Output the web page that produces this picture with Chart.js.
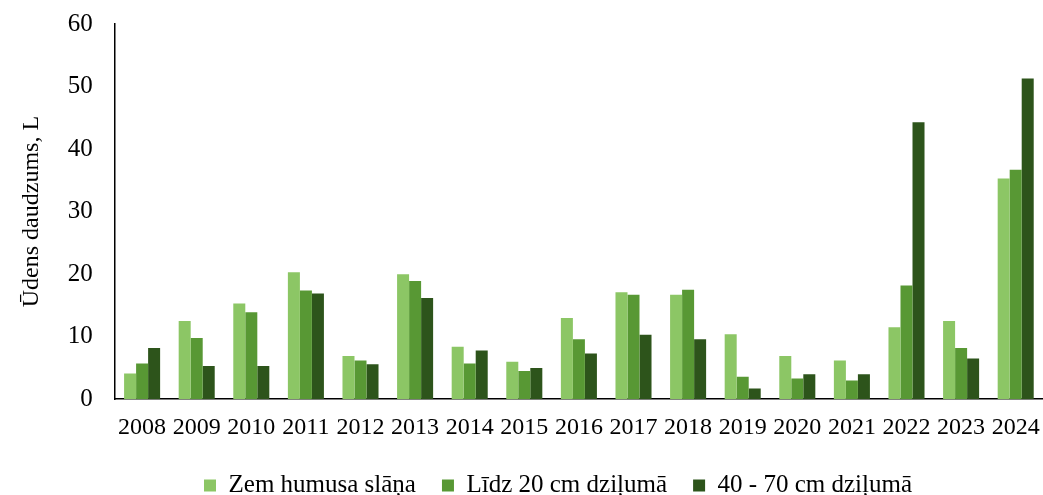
<!DOCTYPE html>
<html>
<head>
<meta charset="utf-8">
<script src="https://cdn.jsdelivr.net/npm/chart.js@4"></script>
<style>
  html, body { margin: 0; padding: 0; background: #fff; }
  #wrap { width: 1043px; height: 495px; }
</style>
</head>
<body>
<div id="wrap"><canvas id="waterChart"></canvas></div>
<script>
// Data
const years = ["2008","2009","2010","2011","2012","2013","2014","2015","2016","2017","2018","2019","2020","2021","2022","2023","2024"];
const underHumus = [4.1, 12.5, 15.3, 20.3, 6.9, 20.0, 8.4, 6.0, 13.0, 17.1, 16.7, 10.4, 6.9, 6.2, 11.5, 12.5, 35.3];
const upTo20cm   = [5.7, 9.8, 13.9, 17.4, 6.2, 18.9, 5.7, 4.5, 9.6, 16.7, 17.5, 3.6, 3.3, 3.0, 18.2, 8.2, 36.7];
const depth40_70 = [8.2, 5.3, 5.3, 16.9, 5.6, 16.2, 7.8, 5.0, 7.3, 10.3, 9.6, 1.7, 4.0, 4.0, 44.3, 6.5, 51.3];
const yTicks = [0, 10, 20, 30, 40, 50, 60];

const serif = "'Liberation Serif', 'Times New Roman', serif";

// tick padding would otherwise be added to the plot's top/right margins
const noEdgePadding = (scale) => {
  scale.paddingTop = 0;
  scale.paddingBottom = 0;
  scale.paddingLeft = 0;
  scale.paddingRight = 0;
};

// move the legend a bit (the original sits right of centre)
const legendNudge = {
  id: "legendNudge",
  afterLayout(chart) {
    const lg = chart.legend;
    lg.left += 28; lg.right += 28;
    lg.top -= 9; lg.bottom -= 9;
  }
};

new Chart(document.getElementById("waterChart"), {
  type: "bar",
  data: {
    labels: years,
    datasets: [
      { label: "Zem humusa slāņa", data: underHumus, backgroundColor: "#8cc665" },
      { label: "Līdz 20 cm dziļumā", data: upTo20cm, backgroundColor: "#589834" },
      { label: "40 - 70 cm dziļumā", data: depth40_70, backgroundColor: "#2d541b" }
    ]
  },
  plugins: [legendNudge],
  options: {
    responsive: true,
    maintainAspectRatio: false,
    animation: false,
    layout: { padding: { left: 17, right: 0, top: 24, bottom: -22 } },
    datasets: { bar: { categoryPercentage: 0.66, barPercentage: 1.0 } },
    plugins: {
      tooltip: { enabled: false },
      legend: {
        position: "bottom",
        labels: {
          color: "#000",
          font: { family: serif, size: 25 },
          boxWidth: 12,
          boxHeight: 12,
          padding: 26
        }
      }
    },
    scales: {
      x: {
        afterFit: noEdgePadding,
        grid: { display: false, drawTicks: false },
        border: { display: true, color: "#000", width: 1.5 },
        ticks: { color: "#000", font: { family: serif, size: 24 }, padding: 14, maxRotation: 0, autoSkip: false }
      },
      y: {
        min: 0,
        max: 60,
        afterFit: noEdgePadding,
        afterBuildTicks: (scale) => { scale.ticks = yTicks.map(v => ({ value: v })); },
        grid: { display: false, drawTicks: false },
        border: { display: true, color: "#000", width: 1.5 },
        ticks: { color: "#000", font: { family: serif, size: 25 }, padding: 22 },
        title: {
          display: true,
          text: "Ūdens daudzums, L",
          color: "#000",
          font: { family: serif, size: 24 },
          padding: { top: 0, bottom: 0 }
        }
      }
    }
  }
});
</script>
</body>
</html>
